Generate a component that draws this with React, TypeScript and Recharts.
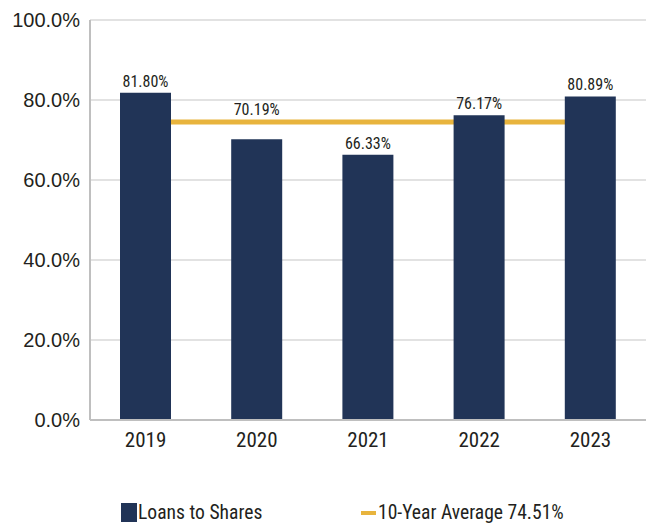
import {
  Bar,
  CartesianGrid,
  ComposedChart,
  LabelList,
  Legend,
  Line,
  XAxis,
  YAxis,
} from "recharts";

const years = ["2019", "2020", "2021", "2022", "2023"];
const loansToShares = [81.8, 70.19, 66.33, 76.17, 80.89];
const tenYearAverage = 74.51;
const yTicks = [0, 20, 40, 60, 80, 100];

const data = years.map((year, i) => ({
  year,
  loans: loansToShares[i],
  avg: tenYearAverage,
}));

const NARROW = "'Liberation Sans Narrow', 'Arial Narrow', 'Roboto Condensed', sans-serif";
const BAR_COLOR = "#213457";
const AVG_COLOR = "#e8b43d";
const TEXT_COLOR = "#231f20";

// value label above a bar; lifted above the average line when they would collide
function BarValueLabel(props: any) {
  const x = Number(props.x);
  const y = Number(props.y);
  const width = Number(props.width);
  const height = Number(props.height);
  const value = Number(props.value);
  const bottom = y + height;
  const avgY = bottom - (tenYearAverage / value) * height;
  let baseline = y - 6;
  if (baseline > avgY - 8 && baseline - 13 < avgY + 3) baseline = avgY - 7;
  return (
    <text
      x={x + width / 2}
      y={baseline}
      textAnchor="middle"
      fill={TEXT_COLOR}
      fontSize={16}
      fontFamily={NARROW}
    >
      {`${value.toFixed(2)}%`}
    </text>
  );
}

function renderLegend() {
  return (
    <div style={{ position: "relative", width: 646, height: 69, fontFamily: NARROW, fontSize: 19.6, color: TEXT_COLOR }}>
      <div style={{ position: "absolute", left: 121, top: 43, width: 16, height: 19, background: BAR_COLOR }} />
      <div style={{ position: "absolute", left: 138, top: 40, lineHeight: "25px", whiteSpace: "nowrap" }}>
        Loans to Shares
      </div>
      <div style={{ position: "absolute", left: 361, top: 51, width: 15, height: 4, background: AVG_COLOR }} />
      <div style={{ position: "absolute", left: 378, top: 40, lineHeight: "25px", whiteSpace: "nowrap" }}>
        10-Year Average {tenYearAverage.toFixed(2)}%
      </div>
    </div>
  );
}

export default function App() {
  return (
    <div style={{ position: "absolute", left: 0, top: 0, background: "#fff" }}>
      <ComposedChart
        width={650}
        height={529}
        data={data}
        margin={{ top: 20, right: 4, left: 0, bottom: 0 }}
      >
        <CartesianGrid vertical={false} stroke="#d9d9d9" strokeWidth={1.5} />
        <XAxis
          dataKey="year"
          height={40}
          stroke="#bfbfbf"
          strokeWidth={2}
          tickLine={false}
          tickSize={0}
          tickMargin={12}
          tick={{ fill: TEXT_COLOR, fontSize: 21, fontFamily: NARROW }}
        />
        <YAxis
          width={90}
          domain={[0, 100]}
          ticks={yTicks}
          stroke="#bfbfbf"
          strokeWidth={2}
          tickLine={false}
          tickSize={0}
          tickMargin={10}
          tickFormatter={(v: number) => `${v.toFixed(1)}%`}
          tick={{ fill: TEXT_COLOR, fontSize: 20, fontFamily: "'Liberation Sans', Arial, sans-serif" }}
        />
        <Legend verticalAlign="bottom" content={renderLegend} />
        <Line
          dataKey="avg"
          stroke={AVG_COLOR}
          strokeWidth={5}
          dot={false}
          activeDot={false}
          zIndex={250}
          isAnimationActive={false}
        />
        <Bar dataKey="loans" fill={BAR_COLOR} barSize={51} isAnimationActive={false}>
          <LabelList dataKey="loans" position="top" content={BarValueLabel} />
        </Bar>
      </ComposedChart>
    </div>
  );
}
